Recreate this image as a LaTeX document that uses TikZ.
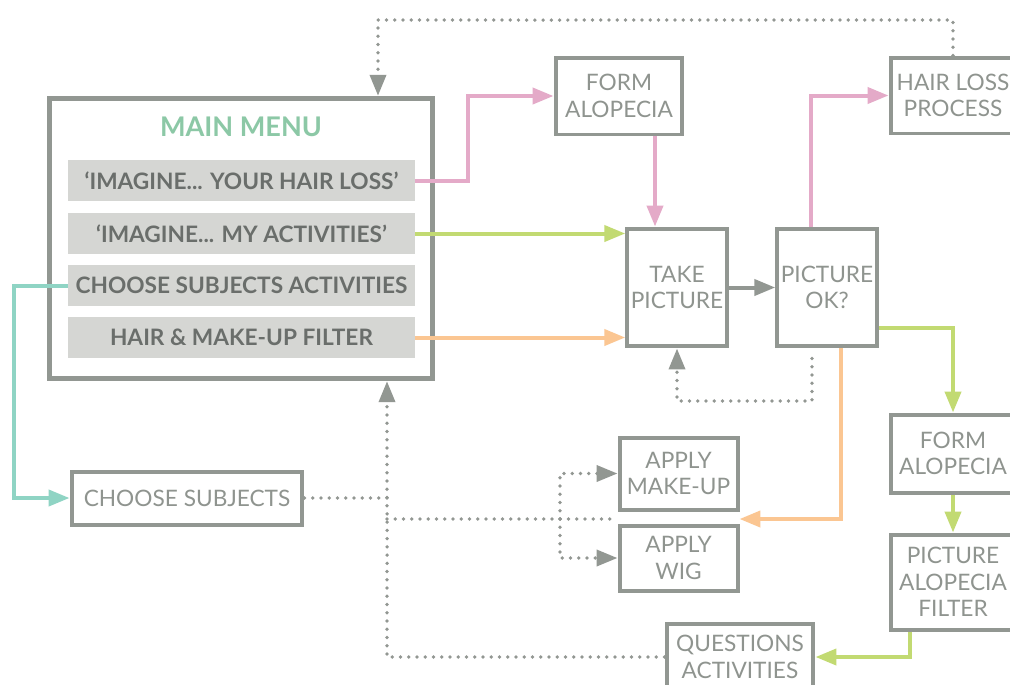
\documentclass[tikz,border=0pt]{standalone}
\usepackage{fontspec}
\setmainfont{Lato}
\usetikzlibrary{arrows.meta}
\definecolor{boxgray}{HTML}{929792}
\definecolor{textgray}{HTML}{8F948F}
\definecolor{itemtext}{HTML}{6A6E6B}
\definecolor{barfill}{HTML}{D5D6D3}
\definecolor{mint}{HTML}{8CC8A6}
\definecolor{linkpink}{HTML}{E4AAC8}
\definecolor{linkgreen}{HTML}{C2DA72}
\definecolor{linkorange}{HTML}{FBC692}
\definecolor{linkteal}{HTML}{8FD4C4}
\tikzstyle{block}=[rectangle,draw=boxgray,line width=0.08cm,text=textgray,align=center,inner sep=2pt,font=\fontsize{12.9}{15}\selectfont]
\tikzstyle{item}=[rectangle,fill=barfill,minimum width=6.94cm,minimum height=0.82cm,text=itemtext,font=\bfseries\fontsize{12.9}{15}\selectfont]
\tikzstyle{link}=[-{Triangle[length=0.42cm,width=0.32cm]},line width=0.08cm]
\tikzstyle{dots}=[draw=boxgray,line width=0.075cm,line cap=round,dash pattern=on 0pt off 0.165cm]
\tikzstyle{dotlink}=[dots,-{Triangle[length=0.42cm,width=0.32cm]}]

\begin{document}
\begin{tikzpicture}[x=0.02cm,y=-0.02cm]
    \fill [white] (0,0) rectangle (1010,684);
    \useasboundingbox (0,0) rectangle (1010,684);

    % main menu and its entries
    \node (menu) at (241,238.5) [rectangle,draw=boxgray,line width=0.11cm,minimum width=7.66cm,minimum height=5.6cm] {};
    \node (title) at (241,127) [text=mint,font=\bfseries\fontsize{15.4}{17}\selectfont] {MAIN MENU};
    \node (bar1) at (241.5,180.5) [item] {‘IMAGINE... YOUR HAIR LOSS’};
    \node (bar2) at (241.5,233.5) [item] {‘IMAGINE... MY ACTIVITIES’};
    \node (bar3) at (241.5,285.5) [item] {CHOOSE SUBJECTS ACTIVITIES};
    \node (bar4) at (241.5,337.5) [item] {HAIR \& MAKE-UP FILTER};

    % steps
    \node (formA) at (619,96) [block,minimum width=2.54cm,minimum height=1.54cm] {FORM\\ALOPECIA};
    \node (hairloss) at (953,95.5) [block,minimum width=2.5cm,minimum height=1.52cm] {HAIR LOSS\\PROCESS};
    \node (take) at (677,287.5) [block,minimum width=1.98cm,minimum height=2.36cm] {TAKE\\PICTURE};
    \node (ok) at (827,287.5) [block,minimum width=1.98cm,minimum height=2.36cm] {PICTURE\\OK?};
    \node (formB) at (953,453.5) [block,minimum width=2.5cm,minimum height=1.56cm] {FORM\\ALOPECIA};
    \node (filter) at (953,582) [block,minimum width=2.5cm,minimum height=1.9cm] {PICTURE\\ALOPECIA\\FILTER};
    \node (questions) at (740,657) [block,minimum width=2.94cm,minimum height=1.34cm] {QUESTIONS\\ACTIVITIES};
    \node (chooseS) at (187,498) [block,minimum width=4.62cm,minimum height=1.06cm] {CHOOSE SUBJECTS};
    \node (makeup) at (678.5,473.5) [block,minimum width=2.36cm,minimum height=1.44cm] {APPLY\\MAKE-UP};
    \node (wig) at (678.5,558) [block,minimum width=2.36cm,minimum height=1.3cm] {APPLY\\WIG};

    % bends of the connectors
    \coordinate (pk) at (655,0);
    \coordinate (pu) at (811,0);
    \coordinate (top) at (378,20);
    \coordinate (gy) at (0,328);
    \coordinate (gx) at (910,0);
    \coordinate (dx) at (387,0);
    \coordinate (bx) at (560,519);
    \coordinate (ox) at (841,0);
    \coordinate (rx) at (812,401);

    \draw [link,linkpink] (bar1.east) -- ++(53,0) |- (formA.west);
    \draw [link,linkpink] (formA.south -| pk) -- (take.north -| pk);
    \draw [link,linkgreen] (bar2.east) -- (bar2.east -| take.west);
    \draw [link,linkorange] (bar4.east) -- (bar4.east -| take.west);
    \draw [link,linkteal] (bar3.west) -- ++(-54,0) |- (chooseS.west);
    \draw [link,boxgray] (take.east) -- (ok.west);
    \draw [link,linkpink] (ok.north -| pu) |- (hairloss.west);
    \draw [dotlink] (hairloss.north) |- (top) -- (top |- menu.north);
    \draw [link,linkgreen] (ok.east |- gy) -| (formB.north);
    \draw [link,linkgreen] (formB.south) -- (filter.north);
    \draw [link,linkgreen] (filter.south -| gx) |- (questions.east);
    \draw [dotlink] (questions.west) -| (dx |- menu.south);
    \draw [dots] (chooseS.east) -- (chooseS.east -| dx);
    \draw [dots] (dx |- bx) -- (bx -| makeup.west);
    \draw [dotlink] (bx) |- (makeup.west);
    \draw [dotlink] (bx) |- (wig.west);
    \draw [link,linkorange] (ok.south -| ox) |- (bx -| makeup.east);
    \draw [dotlink,shorten <=0.2cm] (ok.south -| rx) -- (rx) -| (take.south);
\end{tikzpicture}
\end{document}
